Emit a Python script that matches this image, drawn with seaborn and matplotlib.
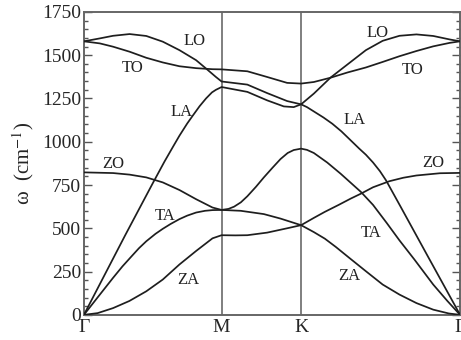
import numpy as np
import pandas as pd
import seaborn as sns
from matplotlib import pyplot as plt
import matplotlib.ticker as mtick

# high symmetry points along the path G-M-K-G (units of |GM|)
kpath_ticks = [0.0, 1.0, 1.5774, 2.7321]
kpath_labels = ["Γ", "M", "K", "Γ"]

# phonon branches: q along the path, omega in cm^-1
za_q = [0, 0.1, 0.212, 0.33, 0.453, 0.573, 0.694, 0.815, 0.934, 1.0,
        1.1, 1.187, 1.331, 1.476, 1.5774,
        1.670, 1.75, 1.83, 1.926, 2.048, 2.170, 2.292, 2.415, 2.537, 2.65, 2.7321]
za_w = [0, 10, 39, 80, 136, 204, 291, 369, 442, 460,
        459, 460, 475, 500, 518,
        478, 440, 392, 330, 252, 175, 117, 68, 30, 8, 0]

ta_q = [0, 0.1, 0.212, 0.28, 0.354, 0.4, 0.453, 0.52, 0.573, 0.63, 0.694, 0.75,
        0.815, 0.88, 0.934, 1.0,
        1.05, 1.091, 1.14, 1.187, 1.25, 1.307, 1.37, 1.428, 1.48, 1.524, 1.5774,
        1.62, 1.670, 1.767, 1.865, 1.963, 2.012, 2.1, 2.2, 2.292, 2.4, 2.537,
        2.64, 2.7321]
ta_w = [0, 101, 214, 280, 345, 385, 425, 468, 497, 525, 553, 573,
        591, 601, 605, 606,
        612, 625, 650, 685, 740, 794, 850, 900, 935, 952, 960,
        953, 935, 880, 815, 745, 710, 635, 530, 430, 320, 175,
        80, 0]

zo_q = [0, 0.212, 0.332, 0.453, 0.573, 0.694, 0.815, 0.934, 1.0,
        1.139, 1.307, 1.428, 1.5774,
        1.670, 1.75, 1.85, 1.939, 2.012, 2.1, 2.219, 2.32, 2.415, 2.586, 2.7321]
zo_w = [823, 819, 810, 794, 765, 721, 668, 620, 606,
        601, 582, 556, 518,
        560, 595, 635, 672, 700, 737, 772, 792, 805, 818, 820]

la_q = [0, 0.3, 0.5, 0.585, 0.65, 0.694, 0.75, 0.790, 0.84, 0.887, 0.93, 0.959, 1.0,
        1.187, 1.331, 1.452, 1.524, 1.5774,
        1.62, 1.670, 1.74, 1.804, 1.87, 1.926, 2.0, 2.048, 2.10, 2.15, 2.195,
        2.3, 2.5, 2.7321]
la_w = [0, 460, 760, 885, 975, 1035, 1105, 1150, 1205, 1250, 1285, 1300, 1316,
        1288, 1239, 1204, 1200, 1216,
        1200, 1175, 1140, 1104, 1060, 1017, 960, 925, 880, 830, 776,
        625, 335, 0]

lo_q = [0, 0.116, 0.212, 0.332, 0.453, 0.573, 0.694, 0.815, 0.887, 0.959, 1.0,
        1.187, 1.331, 1.476, 1.5774,
        1.670, 1.792, 1.92, 2.048, 2.170, 2.292, 2.415, 2.537, 2.656, 2.7321]
lo_w = [1580, 1597, 1612, 1622, 1611, 1578, 1529, 1471, 1423, 1374, 1348,
        1330, 1281, 1235, 1216,
        1278, 1371, 1450, 1529, 1583, 1612, 1620, 1611, 1591, 1580]

to_q = [0, 0.116, 0.212, 0.332, 0.453, 0.573, 0.694, 0.815, 0.934, 1.0,
        1.187, 1.331, 1.476, 1.5774,
        1.670, 1.792, 1.914, 2.048, 2.170, 2.292, 2.415, 2.537, 2.656, 2.7321]
to_w = [1580, 1568, 1549, 1520, 1485, 1458, 1436, 1425, 1419, 1418,
        1407, 1374, 1340, 1336,
        1345, 1370, 1400, 1429, 1461, 1494, 1524, 1551, 1571, 1580]

# branch labels and where they sit (q, omega)
label_text = ["LO", "TO", "LA", "ZO", "TA", "ZA", "LO", "TO", "LA", "ZO", "TA", "ZA"]
label_q = [0.804, 0.357, 0.708, 0.212, 0.587, 0.756, 2.135, 2.391, 1.964, 2.537, 2.086, 1.928]
label_w = [1583, 1427, 1171, 872, 572, 204, 1626, 1413, 1123, 877, 475, 223]

branches = {"ZA": (za_q, za_w), "TA": (ta_q, ta_w), "ZO": (zo_q, zo_w),
            "LA": (la_q, la_w), "LO": (lo_q, lo_w), "TO": (to_q, to_w)}
df = pd.concat([pd.DataFrame({"q": q, "omega": w, "branch": name})
                for name, (q, w) in branches.items()], ignore_index=True)

sns.set_style("ticks")
plt.rcParams["font.family"] = ["Liberation Serif", "DejaVu Serif"]
plt.rcParams["mathtext.fontset"] = "stix"

fig, ax = plt.subplots(figsize=(4.61, 3.40), dpi=100)
fig.subplots_adjust(left=0.182, right=0.998, bottom=0.074, top=0.965)

for x in kpath_ticks[1:3]:
    ax.axvline(x, color="#6a6a6a", lw=1.2, zorder=1)

sns.lineplot(data=df, x="q", y="omega", units="branch", estimator=None,
             sort=False, color="#1e1e1e", lw=1.25, ax=ax, zorder=3)

for t, q, w in zip(label_text, label_q, label_w):
    ax.text(q, w, t, ha="center", va="center", fontsize=12, color="#222222")

ax.set_xlim(kpath_ticks[0], kpath_ticks[-1])
ax.set_ylim(0, 1750)
ax.set_xticks(kpath_ticks)
ax.set_xticklabels(kpath_labels, fontsize=14)
ax.tick_params(axis="x", length=0, pad=3)
ax.yaxis.set_major_locator(mtick.MultipleLocator(250))
ax.yaxis.set_minor_locator(mtick.MultipleLocator(50))
ax.tick_params(axis="y", which="both", direction="in", left=True, right=True,
               labelsize=14, color="#555555", width=1.0, pad=2)
ax.tick_params(axis="y", which="major", length=6)
ax.tick_params(axis="y", which="minor", length=3)
for s in ax.spines.values():
    s.set_color("#666666")
    s.set_linewidth(1.4)

ax.set_xlabel("")
ax.set_ylabel("ω  (cm$^{-1}$)", fontsize=15, labelpad=4)

plt.savefig("out.png", dpi=100)
